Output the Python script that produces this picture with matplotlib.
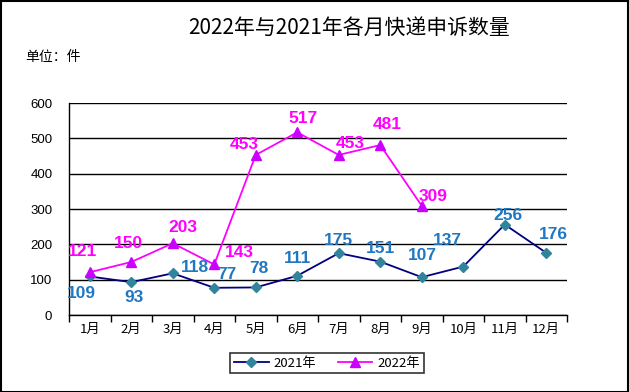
import matplotlib
matplotlib.use("Agg")
import matplotlib.pyplot as plt
from matplotlib.patches import Rectangle

plt.rcParams['font.family'] = ['Noto Sans CJK SC', 'DejaVu Sans']

months = ['1月', '2月', '3月', '4月', '5月', '6月', '7月', '8月', '9月', '10月', '11月', '12月']
y2021 = [109, 93, 118, 77, 78, 111, 175, 151, 107, 137, 256, 176]
y2022 = [121, 150, 203, 143, 453, 517, 453, 481, 309]
yticks = [0, 100, 200, 300, 400, 500, 600]

# label offsets in pixels (dx, dy) relative to points
off2021 = [(-8, -17), (3, -15), (22, 6), (13, 13), (3, 19), (0, 17), (0, 13), (0, 13), (1, 22), (-16, 26), (3, 9), (7, 18)]
off2022 = [(-7, 21), (-3, 18), (10, 16), (25, 12), (-12, 10), (6, 14), (12, 11), (7, 21), (11, 9)]

fig = plt.figure(figsize=(6.29, 3.92), dpi=100)
ax = fig.add_axes([69/629, 1-315/392, 498/629, 212/392])

x1 = list(range(len(y2021)))
x2 = list(range(len(y2022)))
ax.plot(x1, y2021, color='#000080', lw=1.3, marker='D', ms=5.5,
        mfc='#31849B', mec='#31849B', label='2021年', zorder=3)
ax.plot(x2, y2022, color='#FF00FF', lw=1.3, marker='^', ms=7,
        mfc='#CC00FF', mec='#CC00FF', label='2022年', zorder=3)

for xi, yi, (dx, dy) in zip(x1, y2021, off2021):
    ax.annotate(str(yi), (xi, yi), xytext=(dx, dy), textcoords='offset pixels',
                ha='center', va='center', color='#1F78C1', fontsize=12.5,
                fontweight='bold', family='Liberation Sans', zorder=4)
for xi, yi, (dx, dy) in zip(x2, y2022, off2022):
    ax.annotate(str(yi), (xi, yi), xytext=(dx, dy), textcoords='offset pixels',
                ha='center', va='center', color='#FF00FF', fontsize=12.5,
                fontweight='bold', family='Liberation Sans', zorder=4)

ax.set_xlim(-0.5, 11.5)
ax.set_ylim(0, 600)
ax.set_yticks(yticks)
ax.set_yticklabels([str(v) for v in yticks], fontsize=9.5, family='Liberation Sans')
ax.tick_params(axis='y', length=0, pad=12)
ax.set_xticks([i - 0.5 for i in range(13)])
ax.set_xticklabels([])
ax.set_xticks(range(12), minor=True)
ax.set_xticklabels(months, minor=True, fontsize=9.5)
ax.tick_params(axis='x', which='major', length=5, direction='out', width=1)
ax.tick_params(axis='x', which='minor', length=0, pad=6)
ax.grid(axis='y', color='black', lw=1)
for s in ['top', 'right']:
    ax.spines[s].set_visible(False)
for s in ['left', 'bottom']:
    ax.spines[s].set_color('black')
    ax.spines[s].set_linewidth(1)

leg = fig.legend(loc='center', bbox_to_anchor=(327/629, 1-363/392), ncol=2,
                 frameon=True, fancybox=False, edgecolor='black', fontsize=9.5,
                 handlelength=2.6, handletextpad=0.4, columnspacing=1.6,
                 borderpad=0.3)
leg.get_frame().set_linewidth(1.2)

fig.text(349/629, 1-28/392, '2022年与2021年各月快递申诉数量', ha='center', va='center',
         fontsize=15)
fig.text(25/629, 1-57/392, '单位：件', ha='left', va='center', fontsize=10)

fig.patches.append(Rectangle((0.001, 0.001), 0.997, 0.997, transform=fig.transFigure,
                             fill=False, edgecolor='black', lw=1.5))

fig.savefig('out.png', dpi=100)
